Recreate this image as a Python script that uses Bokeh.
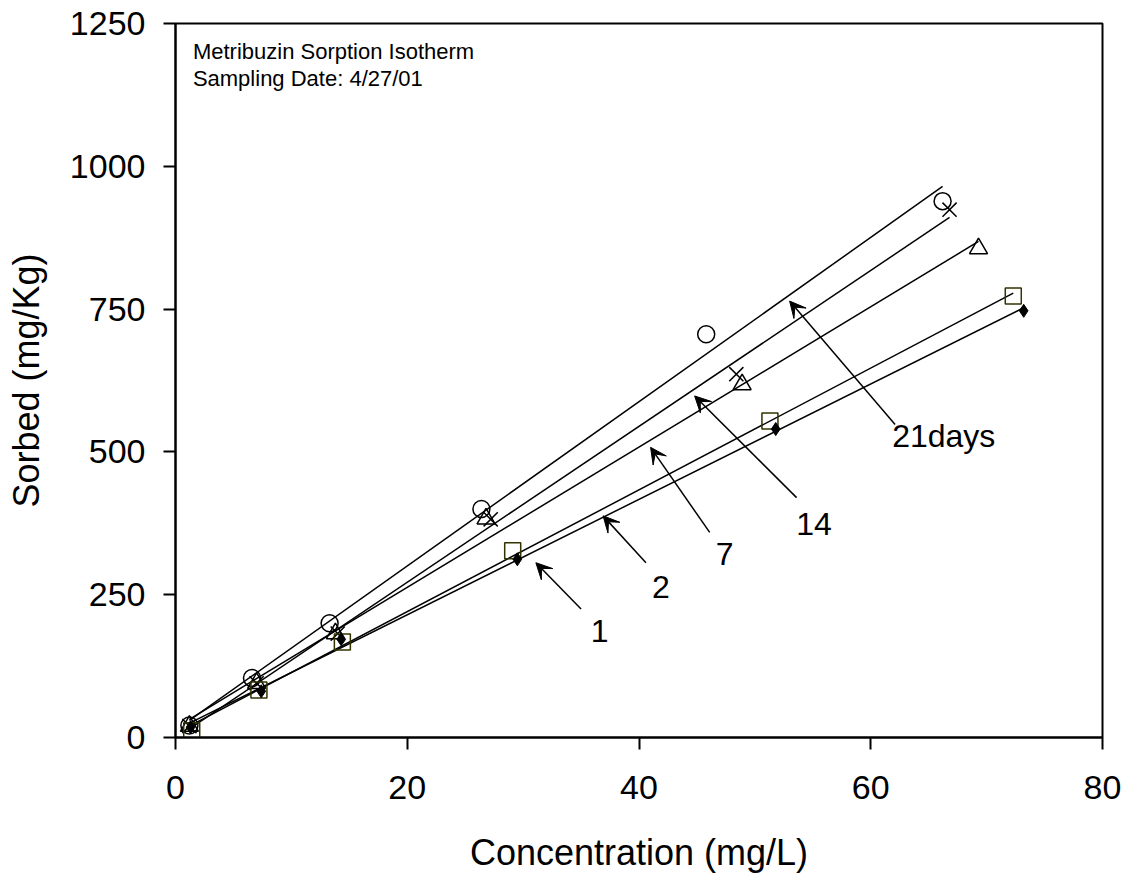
import numpy as np
from bokeh.plotting import figure
from bokeh.models import ColumnDataSource, Arrow, VeeHead, Label, FixedTicker, Range1d
from bokeh.core.properties import value
from bokeh.embed import file_html
from bokeh.resources import INLINE

# ---- data ----
x_day1 = [1.3, 7.4, 14.3, 29.5, 51.8, 73.2]
y_day1 = [18, 81, 172, 312, 540, 747]
x_day2 = [1.4, 7.2, 14.4, 29.1, 51.3, 72.3]
y_day2 = [12, 83, 167, 327, 554, 773]
x_day7 = [1.2, 7.0, 13.8, 26.8, 48.9, 69.3]
y_day7 = [20, 95, 182, 383, 618, 856]
x_day14 = [1.2, 7.0, 14.0, 27.2, 48.4, 66.8]
y_day14 = [20, 95, 182, 382, 636, 924]
x_day21 = [1.2, 6.6, 13.3, 26.4, 45.8, 66.2]
y_day21 = [21, 104, 200, 400, 706, 939]

ann_text = ["1", "2", "7", "14", "21days"]
ann_x = [36.6, 41.9, 47.4, 55.1, 66.3]
ann_y = [187, 263, 321, 374, 527]
arrow_x0 = [35.0, 40.6, 46.1, 53.6, 62.1]
arrow_y0 = [225, 306, 359, 420, 548]
arrow_x1 = [31.1, 36.9, 41.0, 44.8, 53.0]
arrow_y1 = [306, 388, 508, 598, 764]

x_ticks = [0, 20, 40, 60, 80]
y_ticks = [0, 250, 500, 750, 1000, 1250]

title_lines = ["Metribuzin Sorption Isotherm", "Sampling Date: 4/27/01"]
title_y = [1201, 1154]

FONT = "Liberation Sans"

p = figure(width=1127, height=877, output_backend="svg", toolbar_location=None,
           x_range=Range1d(0, 80), y_range=Range1d(0, 1250),
           min_border_left=175, min_border_right=25, min_border_top=23, min_border_bottom=140)
p.background_fill_color = "white"
p.border_fill_color = "white"
p.outline_line_color = "black"
p.outline_line_width = 2
p.xgrid.visible = False
p.ygrid.visible = False

for ax, ticks in ((p.xaxis, x_ticks), (p.yaxis, y_ticks)):
    ax.ticker = FixedTicker(ticks=ticks)
    ax.axis_line_width = 2
    ax.axis_line_color = "black"
    ax.major_tick_line_width = 2
    ax.major_tick_in = 0
    ax.major_tick_out = 12
    ax.minor_tick_line_color = None
    ax.major_label_text_font = FONT
    ax.major_label_text_font_size = "34px"
    ax.major_label_text_color = "black"
    ax.axis_label_text_font = FONT
    ax.axis_label_text_font_size = "36px"
    ax.axis_label_text_font_style = "normal"
    ax.axis_label_text_color = "black"

p.xaxis.axis_label = "Concentration (mg/L)"
p.yaxis.axis_label = "Sorbed (mg/Kg)"
p.xaxis.major_label_standoff = 26
p.yaxis.major_label_standoff = 18
p.xaxis.axis_label_standoff = 30
p.yaxis.axis_label_standoff = 20

series = [
    (x_day1, y_day1), (x_day2, y_day2), (x_day7, y_day7), (x_day14, y_day14), (x_day21, y_day21)
]
# regression lines spanning each series' range
for xs, ys in series:
    b, a = np.polyfit(xs, ys, 1)
    xl = np.array([min(xs), max(xs)])
    p.line(xl, a + b * xl, line_color="black", line_width=1.5)

p.scatter(x_day21, y_day21, marker="circle", size=17, fill_color=None, line_color="black", line_width=1.5)
p.scatter(x_day14, y_day14, marker="x", size=20, line_color="black", line_width=1.5)
p.scatter(x_day7, y_day7, marker="triangle", size=18, fill_color=None, line_color="black", line_width=1.5)
p.scatter(x_day2, y_day2, marker="square", size=16, fill_color=None, line_color="#333300", line_width=1.5)
p.scatter(x_day1, y_day1, marker="diamond", size=13, fill_color="black", line_color="black", line_width=1)

asrc = ColumnDataSource(dict(x0=arrow_x0, y0=arrow_y0, x1=arrow_x1, y1=arrow_y1))
p.add_layout(Arrow(end=VeeHead(size=16, fill_color="black", line_color="black"),
                   x_start="x0", y_start="y0", x_end="x1", y_end="y1", source=asrc,
                   line_color="black", line_width=1.5))

tsrc = ColumnDataSource(dict(x=ann_x, y=ann_y, t=ann_text))
p.text(x="x", y="y", text="t", source=tsrc, text_font=value(FONT), text_font_size="32px",
       text_align="center", text_baseline="middle", text_color="black")

for t, ty in zip(title_lines, title_y):
    p.add_layout(Label(x=1.5, y=ty, text=t, text_font=FONT, text_font_size="22px",
                       text_baseline="middle", text_align="left", text_color="black"))

open("out.html", "w").write(file_html(p, INLINE))
